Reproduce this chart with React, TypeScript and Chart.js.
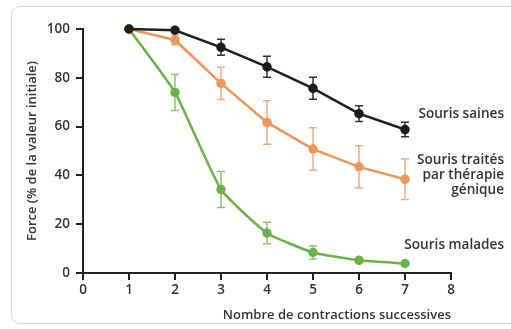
import React, { useEffect, useRef } from "react";
import { Chart, registerables } from "chart.js";

Chart.register(...registerables);

const contractions = [1, 2, 3, 4, 5, 6, 7];
const sainesValues = [100, 99.5, 92.5, 84.5, 75.7, 65.3, 58.8];
const sainesErrors = [0, 0, 3.3, 4.3, 4.5, 3.2, 3];
const traitesValues = [100, 95.5, 77.7, 61.7, 50.8, 43.5, 38.4];
const traitesErrors = [0, 2, 6.6, 8.9, 8.7, 8.7, 8.3];
const maladesValues = [100, 74, 34.2, 16.4, 8.4, 5.2, 3.9];
const maladesErrors = [0, 7.4, 7.4, 4.4, 2.7, 1, 0.5];
const xTicks = [0, 1, 2, 3, 4, 5, 6, 7, 8];
const yTicks = [0, 20, 40, 60, 80, 100];

const seriesLabels = [
  { lines: ["Souris saines"], y: 114 },
  { lines: ["Souris traités", "par thérapie", "génique"], y: 160 },
  { lines: ["Souris malades"], y: 245 },
];

const FONT = "'Open Sans', sans-serif";
const TEXT = "#333333";

const errorBars = {
  id: "errorBars",
  beforeDatasetsDraw(chart: any) {
    const { ctx, scales } = chart;
    const xs = scales.x;
    const ys = scales.y;
    chart.data.datasets.forEach((ds: any) => {
      const errs: number[] = ds.errors || [];
      ctx.save();
      ctx.strokeStyle = ds.errorColor;
      ctx.lineWidth = 1.5;
      ds.data.forEach((v: any, i: number) => {
        const e = errs[i];
        if (!e) return;
        const x = xs.getPixelForValue(v.x);
        const y1 = ys.getPixelForValue(v.y + e);
        const y2 = ys.getPixelForValue(v.y - e);
        ctx.beginPath();
        ctx.moveTo(x, y1);
        ctx.lineTo(x, y2);
        ctx.moveTo(x - 4, y1);
        ctx.lineTo(x + 4, y1);
        ctx.moveTo(x - 4, y2);
        ctx.lineTo(x + 4, y2);
        ctx.stroke();
      });
      ctx.restore();
    });
  },
};

const seriesText = {
  id: "seriesText",
  afterDraw(chart: any) {
    const { ctx } = chart;
    ctx.save();
    ctx.fillStyle = TEXT;
    ctx.font = `600 13.6px ${FONT}`;
    ctx.textAlign = "right";
    ctx.textBaseline = "middle";
    seriesLabels.forEach((s) => {
      s.lines.forEach((l, i) => {
        ctx.fillText(l, 504, s.y + i * 15);
      });
    });
    ctx.restore();
  },
};

export default function App() {
  const ref = useRef<HTMLCanvasElement | null>(null);
  useEffect(() => {
    if (!ref.current) return;
    const mk = (vals: number[]) => vals.map((v, i) => ({ x: contractions[i], y: v }));
    const chart = new Chart(ref.current, {
      type: "line",
      data: {
        datasets: [
          {
            label: "Souris saines",
            data: mk(sainesValues),
            errors: sainesErrors,
            errorColor: "#333333",
            borderColor: "#1e1e1e",
            backgroundColor: "#1e1e1e",
            borderWidth: 2.5,
            pointRadius: 3.5,
            tension: 0,
            clip: false,
          } as any,
          {
            label: "Souris traités par thérapie génique",
            data: mk(traitesValues),
            errors: traitesErrors,
            errorColor: "#e9ad82",
            borderColor: "#ec965a",
            backgroundColor: "#ec965a",
            borderWidth: 2.5,
            pointRadius: 3.5,
            tension: 0,
            clip: false,
          } as any,
          {
            label: "Souris malades",
            data: mk(maladesValues),
            errors: maladesErrors,
            errorColor: "#8fc277",
            borderColor: "#6cb24a",
            backgroundColor: "#6cb24a",
            borderWidth: 2.5,
            pointRadius: 3.5,
            tension: 0.15,
            clip: false,
          } as any,
        ],
      },
      options: {
        animation: false,
        responsive: false,
        maintainAspectRatio: false,
        layout: { padding: { left: 0, right: 60, top: 29, bottom: 0 } },
        plugins: { legend: { display: false }, tooltip: { enabled: false } },
        scales: {
          x: {
            type: "linear",
            min: 0,
            max: 8,
            afterFit: (s: any) => { s.height = 56; },
            afterBuildTicks: (s: any) => { s.ticks = xTicks.map((v) => ({ value: v })); },
            grid: { drawOnChartArea: false, drawTicks: true, tickLength: 7, color: "#222", lineWidth: 2 },
            border: { display: true, color: "#222", width: 2 },
            ticks: { color: TEXT, font: { family: FONT, size: 13.5, weight: "600" }, padding: 2 },
            title: {
              display: true,
              text: "Nombre de contractions successives",
              align: "end",
              color: TEXT,
              font: { family: FONT, size: 13, weight: "600" },
              padding: { top: 0, bottom: 6 },
            },
          },
          y: {
            type: "linear",
            min: 0,
            max: 100,
            afterFit: (s: any) => { s.width = 83; },
            afterBuildTicks: (s: any) => { s.ticks = yTicks.map((v) => ({ value: v })); },
            grid: { drawOnChartArea: false, drawTicks: true, tickLength: 7, color: "#222", lineWidth: 2 },
            border: { display: true, color: "#222", width: 2 },
            ticks: { color: TEXT, font: { family: FONT, size: 13.5, weight: "600" }, padding: 6 },
            title: {
              display: true,
              text: "Force (% de la valeur initiale)",
              color: TEXT,
              font: { family: FONT, size: 13, weight: "600" },
              padding: { top: 24, bottom: 0 },
            },
          },
        },
      } as any,
      plugins: [errorBars, seriesText],
    });
    return () => chart.destroy();
  }, []);
  return (
    <div style={{ position: "fixed", left: 0, top: 0, width: 511, height: 329, overflow: "hidden", background: "#fff" }}>
      <div
        style={{
          position: "absolute",
          left: 11,
          top: 6,
          width: 540,
          height: 318,
          border: "1.5px solid #d4d4d4",
          borderRadius: 9,
          boxSizing: "border-box",
        }}
      />
      <canvas ref={ref} width={511} height={329} style={{ position: "absolute", left: 0, top: 0 }} />
    </div>
  );
}
